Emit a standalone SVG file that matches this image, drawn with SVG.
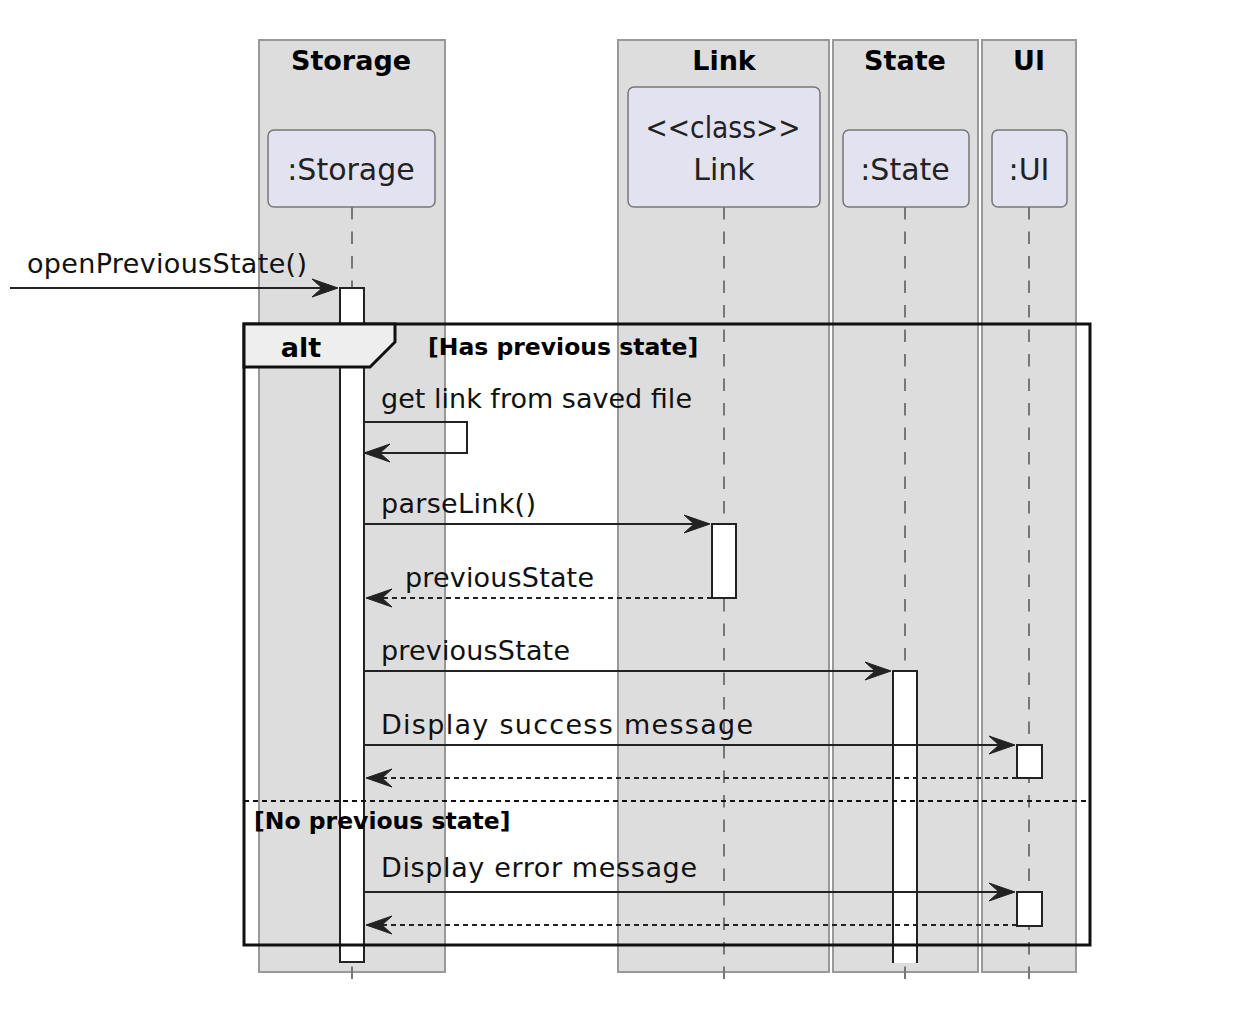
<svg xmlns="http://www.w3.org/2000/svg" width="1234" height="1024" viewBox="0 0 1234 1024">
<style>
.box{fill:#DDDDDD;stroke:#999999;stroke-width:2}
.btitle{font-family:"DejaVu Sans",sans-serif;font-weight:bold;font-size:27px;fill:#000;text-anchor:middle}
.part{fill:#E2E2F0;stroke:#777777;stroke-width:1.5}
.ptext{font-family:"DejaVu Sans",sans-serif;font-size:30px;fill:#222;text-anchor:middle}
.life{stroke:#777777;stroke-width:2;stroke-dasharray:12.5,12;fill:none}
.act{fill:#FFFFFF;stroke:#222;stroke-width:2}
.msg{stroke:#222;stroke-width:2;fill:none}
.ret{stroke:#222;stroke-width:2;fill:none;stroke-dasharray:5,4}
.mtext{font-family:"DejaVu Sans",sans-serif;font-size:27px;fill:#111}
.guard{font-family:"DejaVu Sans",sans-serif;font-weight:bold;font-size:23.5px;fill:#000}
.frame{fill:none;stroke:#111;stroke-width:3}
.arrow{fill:#222;stroke:#222;stroke-width:1}
</style>
<defs>
<polygon id="ahR" points="0,0 -26,-9 -16,0 -26,9"/>
<polygon id="ahL" points="0,0 26,-9 16,0 26,9"/>
</defs>
<g id="boxes">
<g id="box-storage"><rect class="box" x="259" y="40" width="186" height="932"/><text class="btitle" x="351" y="70">Storage</text></g>
<g id="box-link"><rect class="box" x="618" y="40" width="211" height="932"/><text class="btitle" x="724" y="70">Link</text></g>
<g id="box-state"><rect class="box" x="833" y="40" width="145" height="932"/><text class="btitle" x="905" y="70">State</text></g>
<g id="box-ui"><rect class="box" x="982" y="40" width="94" height="932"/><text class="btitle" x="1029" y="70">UI</text></g>
</g>
<g id="lifelines">
<line class="life" x1="352" y1="207" x2="352" y2="980"/>
<line class="life" x1="724" y1="207" x2="724" y2="980"/>
<line class="life" x1="905" y1="207" x2="905" y2="980"/>
<line class="life" x1="1029" y1="207" x2="1029" y2="980"/>
</g>
<g id="participant-storage"><rect class="part" x="268" y="130" width="167" height="77" rx="6"/><text class="ptext" x="351" y="180">:Storage</text></g>
<g id="participant-link"><rect class="part" x="628" y="87" width="192" height="120" rx="6"/><text class="ptext" x="723" y="138" textLength="155" lengthAdjust="spacingAndGlyphs">&lt;&lt;class&gt;&gt;</text><text class="ptext" x="724" y="180">Link</text></g>
<g id="participant-state"><rect class="part" x="843" y="130" width="126" height="77" rx="6"/><text class="ptext" x="905" y="180">:State</text></g>
<g id="participant-ui"><rect class="part" x="992" y="130" width="75" height="77" rx="6"/><text class="ptext" x="1029" y="180">:UI</text></g>
<g id="activations">
<rect class="act" x="340" y="288" width="24" height="674"/>
<rect class="act" x="712" y="524" width="24" height="74"/>
<path d="M893,963 V671 H917 V963" fill="#FFFFFF" stroke="#222" stroke-width="2"/>
<rect class="act" x="1017" y="745" width="25" height="33"/>
<rect class="act" x="1017" y="892" width="25" height="34"/>
</g>
<g id="alt-frame">
<rect class="frame" x="244" y="324" width="846" height="621"/>
<path d="M244,324 H395 V342 L370,367 H244 Z" fill="#EEEEEE" stroke="#111" stroke-width="3"/>
<text class="btitle" x="301" y="357">alt</text>
<text class="guard" x="428" y="355">[Has previous state]</text>
<line x1="244" y1="801" x2="1090" y2="801" stroke="#111" stroke-width="2" stroke-dasharray="5,4"/>
<text class="guard" x="254" y="829">[No previous state]</text>
</g>
<g id="connectors">
<line class="msg" x1="10" y1="288" x2="336" y2="288"/><use href="#ahR" class="arrow" x="338" y="288"/>
<text class="mtext" x="27" y="273" textLength="280" lengthAdjust="spacing">openPreviousState()</text>
<polyline class="msg" points="364,422 467,422 467,453 366,453"/><use href="#ahL" class="arrow" x="364" y="453"/>
<text class="mtext" x="381" y="408" textLength="311" lengthAdjust="spacing">get link from saved file</text>
<line class="msg" x1="364" y1="524" x2="708" y2="524"/><use href="#ahR" class="arrow" x="710" y="524"/>
<text class="mtext" x="381" y="513" textLength="155" lengthAdjust="spacing">parseLink()</text>
<line class="ret" x1="712" y1="598" x2="368" y2="598"/><use href="#ahL" class="arrow" x="366" y="598"/>
<text class="mtext" x="405" y="587" textLength="189" lengthAdjust="spacing">previousState</text>
<line class="msg" x1="364" y1="671" x2="889" y2="671"/><use href="#ahR" class="arrow" x="891" y="671"/>
<text class="mtext" x="381" y="660" textLength="189" lengthAdjust="spacing">previousState</text>
<line class="msg" x1="364" y1="745" x2="1013" y2="745"/><use href="#ahR" class="arrow" x="1015" y="745"/>
<text class="mtext" x="381" y="734" textLength="372" lengthAdjust="spacing">Display success message</text>
<line class="ret" x1="1017" y1="778" x2="368" y2="778"/><use href="#ahL" class="arrow" x="366" y="778"/>
<line class="msg" x1="364" y1="892" x2="1013" y2="892"/><use href="#ahR" class="arrow" x="1015" y="892"/>
<text class="mtext" x="381" y="877" textLength="316" lengthAdjust="spacing">Display error message</text>
<line class="ret" x1="1017" y1="925" x2="368" y2="925"/><use href="#ahL" class="arrow" x="366" y="925"/>
</g>
</svg>
